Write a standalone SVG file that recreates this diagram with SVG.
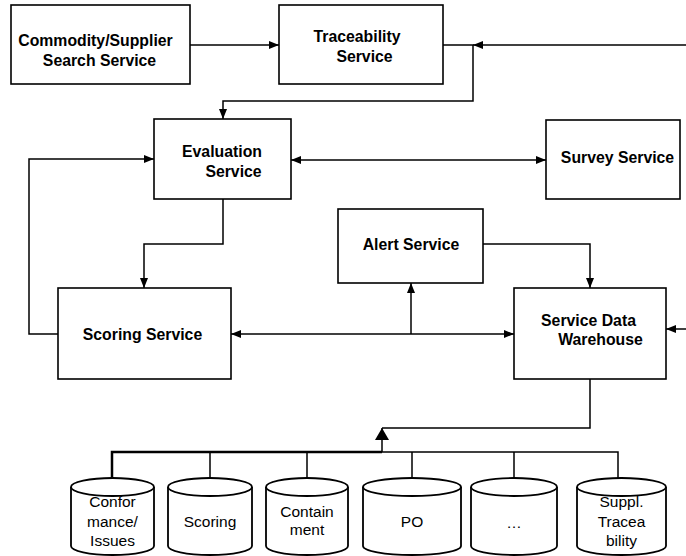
<svg xmlns="http://www.w3.org/2000/svg" width="686" height="556" viewBox="0 0 686 556">
  <style>
    .box { fill: #fff; stroke: #000; stroke-width: 1.6; }
    .lbl { font-family: "Liberation Sans", Arial, sans-serif; font-size: 15.8px; font-weight: bold; fill: #000; text-anchor: middle; }
    .db { fill: #fff; stroke: #000; stroke-width: 1.8; }
    .dbl { font-family: "Liberation Sans", Arial, sans-serif; font-size: 15.5px; fill: #000; text-anchor: middle; }
    .wire { fill: none; stroke: #000; stroke-width: 1.5; }
    .arr { marker-end: url(#head); }
    .both { marker-start: url(#head); marker-end: url(#head); }
  </style>
  <defs>
    <marker id="head" viewBox="0 0 10 8" refX="10" refY="4" markerWidth="10" markerHeight="8" markerUnits="userSpaceOnUse" orient="auto-start-reverse">
      <path d="M0,0 L10,4 L0,8 Z" fill="#000"/>
    </marker>
    <marker id="bighead" viewBox="0 0 12 14" refX="12" refY="7" markerWidth="12" markerHeight="14" markerUnits="userSpaceOnUse" orient="auto">
      <path d="M0,0 L12,7 L0,14 Z" fill="#000"/>
    </marker>
  </defs>

  <!-- connectors -->
  <g id="connectors">
    <path class="wire arr" d="M190,45 H279"/>
    <path class="wire arr" d="M686,45 H473"/>
    <path class="wire arr" d="M443,45 H473 V101 H223 V119"/>
    <path class="wire both" d="M291,160 H546"/>
    <path class="wire arr" d="M58,334 H29 V159 H154"/>
    <path class="wire arr" d="M223,199 V244 H144 V288"/>
    <path class="wire both" d="M231,334 H514"/>
    <path class="wire arr" d="M411,334 V283"/>
    <path class="wire arr" d="M483,244 H590 V288"/>
    <path class="wire arr" d="M686,329 H666"/>
    <path class="wire" d="M590,379 V428 H382"/>
    <path class="wire" style="marker-end:url(#bighead)" d="M382,452 V428"/>
    <path class="wire" style="stroke-width:2.5" d="M112,478 V452 H382"/>
    <path class="wire" d="M382,452 H618 V478"/>
    <path class="wire" d="M210,452 V478 M307,452 V478 M412,452 V478 M514,452 V478"/>
  </g>

  <!-- service nodes -->
  <g id="commodity-search">
    <rect class="box" x="11" y="5" width="179" height="79"/>
    <text class="lbl" x="95.5" y="46">Commodity/Supplier</text>
    <text class="lbl" x="99.5" y="66">Search Service</text>
  </g>
  <g id="traceability">
    <rect class="box" x="279" y="5" width="164" height="79"/>
    <text class="lbl" x="357" y="42">Traceability</text>
    <text class="lbl" x="364.5" y="62">Service</text>
  </g>
  <g id="evaluation">
    <rect class="box" x="154" y="119" width="137" height="80"/>
    <text class="lbl" x="222" y="157">Evaluation</text>
    <text class="lbl" x="233.5" y="177">Service</text>
  </g>
  <g id="survey">
    <rect class="box" x="546" y="120" width="134" height="79"/>
    <text class="lbl" x="617.5" y="163">Survey Service</text>
  </g>
  <g id="alert">
    <rect class="box" x="338" y="209" width="145" height="74"/>
    <text class="lbl" x="411" y="250">Alert Service</text>
  </g>
  <g id="scoring">
    <rect class="box" x="58" y="288" width="173" height="91"/>
    <text class="lbl" x="142.5" y="340">Scoring Service</text>
  </g>
  <g id="data-warehouse">
    <rect class="box" x="514" y="288" width="152" height="91"/>
    <text class="lbl" x="588.5" y="326">Service Data</text>
    <text class="lbl" x="600.5" y="345">Warehouse</text>
  </g>

  <!-- data stores -->
  <g id="db-conformance">
    <path class="db" d="M71,487 V546 A41.5,9 0 0 0 154,546 V487"/>
    <ellipse class="db" cx="112.5" cy="487" rx="41.5" ry="9"/>
    <text class="dbl" x="112.5" y="507">Confor</text>
    <text class="dbl" x="112.5" y="527">mance/</text>
    <text class="dbl" x="112.5" y="546">Issues</text>
  </g>
  <g id="db-scoring">
    <path class="db" d="M168,487 V546 A42,9 0 0 0 252,546 V487"/>
    <ellipse class="db" cx="210" cy="487" rx="42" ry="9"/>
    <text class="dbl" x="210" y="527">Scoring</text>
  </g>
  <g id="db-containment">
    <path class="db" d="M266,487 V546 A41,9 0 0 0 348,546 V487"/>
    <ellipse class="db" cx="307" cy="487" rx="41" ry="9"/>
    <text class="dbl" x="307" y="517">Contain</text>
    <text class="dbl" x="307" y="535">ment</text>
  </g>
  <g id="db-po">
    <path class="db" d="M363,487 V546 A49,9 0 0 0 461,546 V487"/>
    <ellipse class="db" cx="412" cy="487" rx="49" ry="9"/>
    <text class="dbl" x="412" y="527">PO</text>
  </g>
  <g id="db-more">
    <path class="db" d="M471,487 V546 A43,9 0 0 0 557,546 V487"/>
    <ellipse class="db" cx="514" cy="487" rx="43" ry="9"/>
    <text class="dbl" x="514" y="528">…</text>
  </g>
  <g id="db-traceability">
    <path class="db" d="M577,487 V546 A44.5,9 0 0 0 666,546 V487"/>
    <ellipse class="db" cx="621.5" cy="487" rx="44.5" ry="9"/>
    <text class="dbl" x="621.5" y="507">Suppl.</text>
    <text class="dbl" x="621.5" y="527">Tracea</text>
    <text class="dbl" x="621.5" y="546">bility</text>
  </g>
</svg>
